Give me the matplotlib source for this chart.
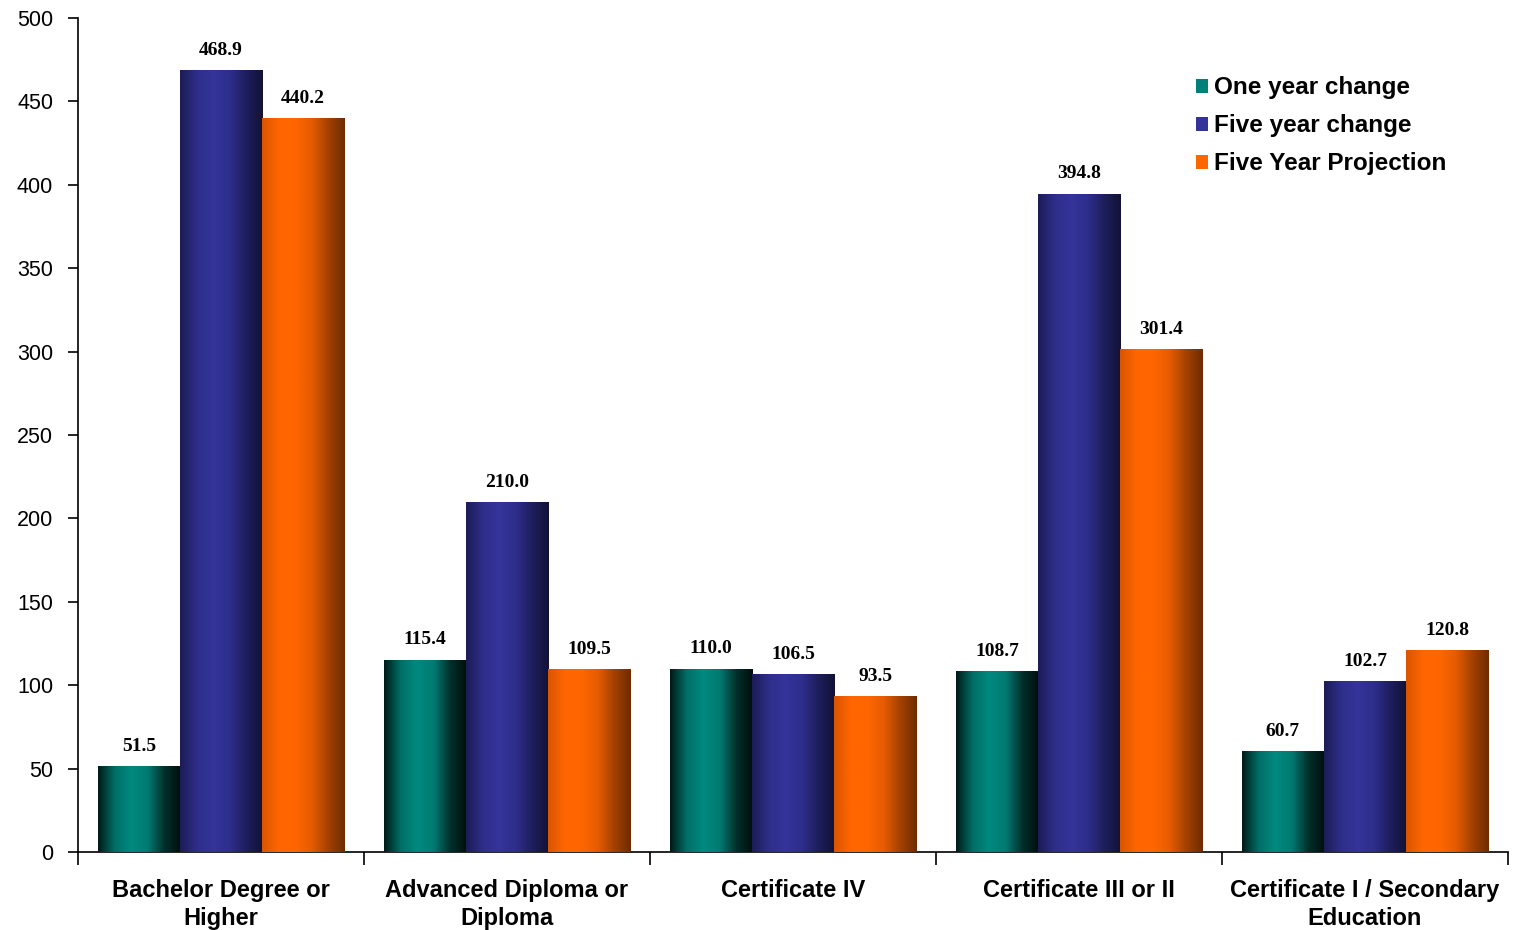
import matplotlib.pyplot as plt
import numpy as np
from matplotlib.colors import LinearSegmentedColormap

categories = ["Bachelor Degree or\nHigher", "Advanced Diploma or\nDiploma", "Certificate IV",
              "Certificate III or II", "Certificate I / Secondary\nEducation"]
one_year = [51.5, 115.4, 110.0, 108.7, 60.7]
five_year = [468.9, 210.0, 106.5, 394.8, 102.7]
projection = [440.2, 109.5, 93.5, 301.4, 120.8]
series_names = ["One year change", "Five year change", "Five Year Projection"]

# colour ramps across each bar, left edge -> right edge
ramps = [
    ["#001a17", "#006e66", "#008a80", "#007a72", "#00302c", "#000f0d"],
    ["#1c1c55", "#2e2e8a", "#34349a", "#2e2e8c", "#1e1e5c", "#121238"],
    ["#d95500", "#ff6600", "#ff6600", "#e65c00", "#a34100", "#6e2c00"],
]
base_colors = ["#008078", "#333399", "#ff6600"]

plt.rcParams['font.family'] = ['Liberation Sans', 'DejaVu Sans']

fig = plt.figure(figsize=(15.16, 9.30), dpi=100)
ax = fig.add_axes([0.0515, 0.0839, 0.9432, 0.8967])

x = np.arange(len(categories))
w = 0.287
grad = np.linspace(0, 1, 256).reshape(1, -1)

for k, vals in enumerate([one_year, five_year, projection]):
    bars = ax.bar(x + (k - 1) * w, vals, w, color=base_colors[k], label=series_names[k], zorder=2)
    cmap = LinearSegmentedColormap.from_list("r%d" % k, ramps[k])
    for b, v in zip(bars, vals):
        x0, y0 = b.get_x(), b.get_y()
        im = ax.imshow(grad, cmap=cmap, aspect="auto", extent=(x0, x0 + b.get_width(), y0, y0 + b.get_height()),
                       zorder=3, interpolation="bicubic")
        im.set_clip_path(b)
        ax.annotate("%.1f" % v, (b.get_x() + b.get_width() / 2, v), xytext=(0, 8), textcoords="offset points",
                    ha="center", va="bottom", fontsize=14, fontweight="bold", family="Liberation Serif")

ax.set_xlim(-0.5, len(categories) - 0.5)
ax.set_ylim(0, 500)
ax.set_yticks(range(0, 501, 50))
ax.tick_params(axis="y", labelsize=15.5, length=7, width=1.2, pad=11)

ax.set_xticks(np.arange(len(categories) + 1) - 0.5)
ax.set_xticklabels([])
ax.set_xticks(x, minor=True)
ax.set_xticklabels(categories, minor=True, fontsize=17, fontweight="bold", linespacing=1.25)
ax.tick_params(axis="x", which="major", length=9, width=1.2)
ax.tick_params(axis="x", which="minor", length=0, pad=19.5)

for s in ["top", "right"]:
    ax.spines[s].set_visible(False)
ax.spines["left"].set_linewidth(1.2)
ax.spines["bottom"].set_linewidth(1.2)

fig.legend(*ax.get_legend_handles_labels(), loc="upper left", bbox_to_anchor=(0.789, 0.918), frameon=False,
           prop={"size": 17.5, "weight": "bold"}, borderpad=0, borderaxespad=0,
           handlelength=0.5, handleheight=0.5, handletextpad=0.25, labelspacing=0.62)

fig.savefig("out.png", dpi=100)
